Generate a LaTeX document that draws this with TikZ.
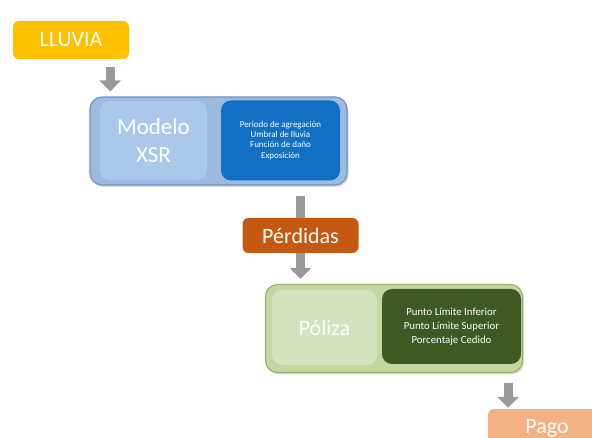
\documentclass[tikz,border=0pt]{standalone}
\usepackage{fontspec}
\setmainfont{Carlito}
\usetikzlibrary{arrows.meta,shadows,positioning,calc}

\definecolor{lluviaNaranja}{HTML}{FFC000}
\definecolor{perdidasNaranja}{HTML}{C65911}
\definecolor{pagoNaranja}{HTML}{F4B183}
\definecolor{modeloFondo}{HTML}{9DBBE0}
\definecolor{modeloBorde}{HTML}{7591BD}
\definecolor{modeloClaro}{HTML}{ABC8EB}
\definecolor{modeloOscuro}{HTML}{1170C4}
\definecolor{polizaFondo}{HTML}{C4D79E}
\definecolor{polizaBorde}{HTML}{9BB06F}
\definecolor{polizaClaro}{HTML}{D3E3BD}
\definecolor{polizaOscuro}{HTML}{3D5A22}
\definecolor{flechaGris}{HTML}{999999}

\begin{document}
\begin{tikzpicture}[
    x=1pt, y=-1pt,
    cajasimple/.style={
        rounded corners=6pt,
        text=white,
        inner sep=0pt,
        minimum width=116pt,
        minimum height=38pt,
        font=\fontsize{22}{26}\selectfont
    },
    cajaexterna/.style={
        rounded corners=12pt,
        line width=1.2pt,
        inner sep=0pt,
        drop shadow={shadow xshift=1.5pt, shadow yshift=-2pt, opacity=.3}
    },
    cajainterna/.style={
        rounded corners=10pt,
        inner sep=0pt,
        align=center,
        text=white
    },
    flecha/.style={
        line width=9pt,
        draw=flechaGris,
        -{Triangle[width=21pt,length=11pt]}
    }
]
    \useasboundingbox (0,0) rectangle (592,438);
    \clip (0,0) rectangle (592,438);

    % Lluvia
    \node[cajasimple, fill=lluviaNaranja] (lluvia) at (71,40) {LLUVIA};

    % Modelo XSR
    \node[cajaexterna, fill=modeloFondo, draw=modeloBorde,
          minimum width=257pt, minimum height=88pt] (modelo) at (218.5,141) {};
    \node[cajainterna, fill=modeloClaro, minimum width=107pt, minimum height=79pt,
          font=\fontsize{23}{28}\selectfont] (modelotxt) at (153.5,140.5) {Modelo\\XSR};
    \node[cajainterna, fill=modeloOscuro, minimum width=119pt, minimum height=80pt,
          font=\fontsize{9}{10.2}\selectfont] (modelopar) at (280.5,140.5)
          {Periodo de agregación\\Umbral de lluvia\\Función de daño\\Exposición};

    % Perdidas
    \node[cajasimple, fill=perdidasNaranja, minimum width=116pt, minimum height=35pt] (perdidas) at (300.5,235.5) {Pérdidas};

    % Poliza
    \node[cajaexterna, fill=polizaFondo, draw=polizaBorde,
          minimum width=257pt, minimum height=88pt] (poliza) at (394,328.5) {};
    \node[cajainterna, fill=polizaClaro, minimum width=105pt, minimum height=75pt,
          text=white!95!polizaClaro, font=\fontsize{22}{26}\selectfont] (polizatxt) at (324.5,327.5) {Póliza};
    \node[cajainterna, fill=polizaOscuro, minimum width=139pt, minimum height=75pt,
          font=\fontsize{10.8}{14}\selectfont] (polizapar) at (451.5,326.5)
          {Punto Límite Inferior\\Punto Límite Superior\\Porcentaje Cedido};

    % Pago
    \node[cajasimple, fill=pagoNaranja, minimum width=118pt] (pago) at (547,428) {Pago};

    % Flechas
    \draw[flecha, shorten <=8pt, shorten >=5pt]
        ([xshift=-19pt]lluvia.south east) -- ([xshift=-19pt]lluvia.south east |- modelo.north);
    \draw[line width=9pt, draw=flechaGris, shorten <=10pt]
        (modelo.south -| perdidas.north) -- (perdidas.north);
    \draw[flecha, shorten >=5pt] (perdidas.south) -- (perdidas.south |- poliza.north);
    \draw[flecha, shorten <=10pt, shorten >=1pt]
        ([xshift=-15pt]poliza.south east) -- ([xshift=-15pt]poliza.south east |- pago.north);
\end{tikzpicture}
\end{document}
